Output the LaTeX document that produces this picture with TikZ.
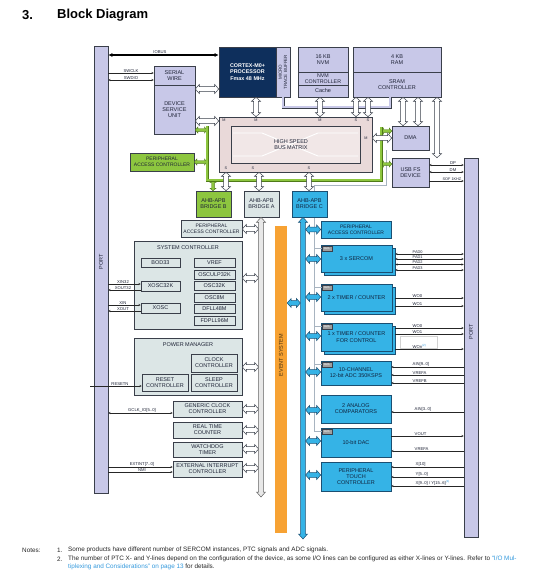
\documentclass[tikz,border=0pt]{standalone}
\usepackage{fontspec}
\setmainfont{Liberation Sans}
\usetikzlibrary{calc,arrows.meta}
\definecolor{lav}{HTML}{C8C8E8}
\definecolor{navy}{HTML}{0E2F5C}
\definecolor{bdr}{HTML}{3A3F4A}
\definecolor{txt}{HTML}{1E2336}
\definecolor{pinkA}{HTML}{E9D9D9}
\definecolor{pinkB}{HTML}{F1E7E7}
\definecolor{grn}{HTML}{8DC63F}
\definecolor{grnD}{HTML}{4F7A18}
\definecolor{gry}{HTML}{DCE6E6}
\definecolor{blu}{HTML}{35B3E6}
\definecolor{bluD}{HTML}{1B4F72}
\definecolor{bluT}{HTML}{10243F}
\definecolor{org}{HTML}{F7A233}
\definecolor{link}{HTML}{3399DD}
\definecolor{evl}{HTML}{A8B4C0}
\newcommand\titlefnt{\fontsize{13}{15}\selectfont\bfseries}
\newcommand\boxfnt{\fontsize{5.5}{6.2}\selectfont}
\newcommand\boxfnts{\fontsize{5.0}{5.8}\selectfont}
\newcommand\boxfntb{\fontsize{5.4}{6.4}\selectfont\bfseries}
\newcommand\sigfnt{\fontsize{4.2}{4.6}\selectfont}
\newcommand\notefnt{\fontsize{6.35}{7}\selectfont}
\newcommand\bx[7]{\node[#2, minimum width={(#5-#3)*1pt}, minimum height={(#6-#4)*1pt}] (#1) at ({(#3+#5)/2},{(#4+#6)/2}) {#7};}
\newcommand\barr[6]{%
 \coordinate (bA) at (#5); \coordinate (bB) at (#6);
 \path[#1] (bA) -- ($(bA)!#2!(bB)!#3!90:(bB)$) -- ($(bA)!#2!(bB)!#4!90:(bB)$) -- ($(bB)!#2!(bA)!#4!-90:(bA)$) -- ($(bB)!#2!(bA)!#3!-90:(bA)$) -- (bB) -- ($(bB)!#2!(bA)!#3!90:(bA)$) -- ($(bB)!#2!(bA)!#4!90:(bA)$) -- ($(bA)!#2!(bB)!#4!-90:(bB)$) -- ($(bA)!#2!(bB)!#3!-90:(bB)$) -- cycle;}
\newcommand\warr[2]{\barr{harr}{4pt}{4.5pt}{2.3pt}{#1}{#2}}
\newcommand\garr[2]{\barr{garrs}{2.5pt}{3pt}{1.3pt}{#1}{#2}}
\newcommand\blarr[2]{\barr{blarrs}{4pt}{4.5pt}{2.3pt}{#1}{#2}}
\tikzset{
 bxs/.style={draw=bdr, line width=0.6pt, inner sep=0pt, align=center, text=txt, font=\boxfnt},
 lavbox/.style={bxs, fill=lav},
 navybox/.style={bxs, fill=navy, text=white, font=\boxfntb},
 pinkbox/.style={bxs, fill=pinkA},
 pinkin/.style={bxs, fill=pinkB},
 grnbox/.style={bxs, fill=grn},
 grybox/.style={bxs, fill=gry},
 blubox/.style={bxs, fill=blu, draw=bluD, text=bluT},
 orgbox/.style={draw=none, fill=org, inner sep=0pt},
 faintbox/.style={draw=gray!35, line width=0.4pt, inner sep=0pt},
 dmatag/.style={draw=bdr, line width=0.4pt, fill=gray!75, minimum width=10pt, minimum height=5pt, inner sep=0pt, font=\fontsize{2.6}{3}\selectfont, text=white, anchor=north west},
 sig/.style={line width=0.5pt, draw=black!85},
 sa/.style={-{Stealth[length=2.2pt,width=2pt]}},
 as/.style={{Stealth[length=2.2pt,width=2pt]}-},
 sas/.style={{Stealth[length=2.2pt,width=2pt]}-{Stealth[length=2.2pt,width=2pt]}},
 siglab/.style={font=\sigfnt, inner sep=0.5pt, anchor=south, text=txt},
 siglabw/.style={siglab, anchor=south west},
 ms/.style={font=\fontsize{3.8}{4}\selectfont, inner sep=0pt, text=txt},
 harr/.style={fill=white, draw=bdr, line width=0.5pt, line join=miter},
 garrs/.style={fill=grn, draw=grnD, line width=0.4pt, line join=miter},
 blarrs/.style={fill=blu, draw=bluD, line width=0.5pt, line join=miter},
 grbus/.style={fill=gray!18, draw=gray!75!black, line width=0.5pt, line join=miter},
 gline/.style={draw=grnD, line width=3pt, postaction={draw=grn, line width=1.8pt}},
 mtbline/.style={draw=bdr, line width=0.5pt, double=lav, double distance=2pt},
 evline/.style={draw=evl, line width=0.5pt},
 notes/.style={font=\notefnt, inner sep=0pt, anchor=west, text=black!85}
}
\begin{document}
\begin{tikzpicture}[x=1pt,y=-1pt]
\useasboundingbox (0,0) rectangle (534,582);
\fill[white] (0,0) rectangle (534,582);
% title
\node[anchor=west, font=\titlefnt, inner sep=0pt] (tnum) at (22,15) {3.};
\node[anchor=west, font=\titlefnt, inner sep=0pt] (ttext) at (57,15) {Block Diagram};
% ports
\bx{lport}{lavbox}{94}{46}{108}{493}{}
\node[rotate=90, font=\boxfnt, text=txt] (lportT) at (101,262) {PORT};
\bx{rport}{lavbox}{464}{158}{478}{537}{}
\node[rotate=90, font=\boxfnt, text=txt] (rportT) at (471,332) {PORT};
% event line (behind)
\coordinate (ev1) at (386,150);
\coordinate (ev2) at (386,185);
\coordinate (ev3) at (314,185);
\coordinate (ev4) at (314,430.5);
\draw[evline] (ev1) -- (ev2) -- (ev3) -- (ev4);
% top row
\bx{cpu}{navybox}{219}{47}{276}{97}{CORTEX-M0+\\PROCESSOR\\Fmax 48 MHz}
\bx{mtb}{lavbox}{276}{47}{290}{97}{}
\node[rotate=90, font=\fontsize{4.5}{5.2}\selectfont, align=center, text=txt, inner sep=0pt] (mtbT) at (mtb.center) {MICRO\\TRACE BUFFER};
\bx{nvm}{lavbox}{298}{47}{348}{72}{16 KB\\NVM}
\bx{nvmc}{lavbox, font=\fontsize{5.3}{5.7}\selectfont}{298}{72}{348}{85}{NVM\\CONTROLLER}
\bx{cache}{lavbox}{298}{85}{348}{97}{Cache}
\bx{ram}{lavbox}{353}{47}{441}{72}{4 KB\\RAM}
\bx{sramc}{lavbox}{353}{72}{441}{97}{SRAM\\CONTROLLER}
\bx{sw}{lavbox}{154}{66}{195}{85}{SERIAL\\WIRE}
\bx{dsu}{lavbox}{154}{85}{195}{134}{DEVICE\\SERVICE\\UNIT}
% IOBUS
\draw[line width=1.2pt, {Latex[length=4pt,width=4pt]}-{Latex[length=4pt,width=4pt]}] (lport.east |- 0,55) -- (cpu.west |- 0,55);
\node[siglab] (iobusT) at (160,54) {IOBUS};
% MTB line
\draw[mtbline] (mtb.south -| 283,0) -- ++(0,10) -| (sramc.south -| 390,0);
% bus matrix
\bx{bm}{pinkbox}{219}{117}{372}{172}{}
\bx{bmi}{pinkin}{231}{126}{360}{163}{}
\draw[white, line width=0.9pt] (233,133) -- (262,133) -- (318,156) -- (358,156);
\draw[white, line width=0.9pt] (233,156) -- (262,156) -- (318,133) -- (358,133);
\node[font=\boxfnt, align=center, text=txt] (bmT) at (291,144.5) {HIGH SPEED\\BUS MATRIX};
\node[ms] (m1) at (224,120.5) {M};
\node[ms] (m2) at (256,120.5) {M};
\node[ms] (m3) at (320,120.5) {M};
\node[ms] (s1) at (356,120.5) {S};
\node[ms] (s2) at (368,120.5) {S};
\node[ms] (m4) at (366,138) {M};
\node[ms] (s3) at (226,168.5) {S};
\node[ms] (s4) at (253,168.5) {S};
\node[ms] (s5) at (309,168.5) {S};
\bx{dma}{lavbox}{392}{126}{429}{150}{DMA}
\bx{usb}{lavbox}{392}{158}{429}{187}{USB FS\\DEVICE}
% USB signals
\draw[sig, sas] (usb.east |- 0,165) -- (rport.west |- 0,165);
\draw[sig, sas] (usb.east |- 0,172) -- (rport.west |- 0,172);
\draw[sig, sa] (usb.east |- 0,181) -- (rport.west |- 0,181);
\node[siglab] (lDP) at (453,165) {DP};
\node[siglab] (lDM) at (453,172) {DM};
\node[siglab, font=\fontsize{3.8}{4.2}\selectfont] (lSOF) at (452,181) {SOF 1KHZ};
% green
\bx{pacg}{grnbox, font=\boxfnts}{130}{153}{194}{171}{PERIPHERAL\\ACCESS CONTROLLER}
\bx{brb}{grnbox}{196}{191}{231}{217}{AHB-APB\\BRIDGE B}
\bx{bra}{grybox}{244}{191}{279}{217}{AHB-APB\\BRIDGE A}
\bx{brc}{blubox}{292}{191}{327}{217}{AHB-APB\\BRIDGE C}
\coordinate (g1) at (207,126);
\coordinate (g2) at (207,180);
\coordinate (g3) at (381,180);
\coordinate (g4) at (381,127);
\garr{dsu.east |- 0,130}{g1 |- 0,130}
\garr{pacg.east |- 0,162}{g1 |- 0,162}
\garr{g2 -| 213,0}{brb.north -| 213,0}
\garr{g4 |- 0,131}{dma.west |- 0,131}
\garr{g4 |- 0,164}{usb.west |- 0,164}
\draw[gline] (g1) -- (g2) -- (g3) -- (g4);
% hollow arrows top
\warr{cpu.south -| 256,0}{bm.north -| 256,0}
\warr{cache.south -| 320,0}{bm.north -| 320,0}
\warr{sramc.south -| 356,0}{bm.north -| 356,0}
\warr{sramc.south -| 368,0}{bm.north -| 368,0}
\warr{sramc.south -| 403,0}{dma.north -| 403,0}
\warr{sramc.south -| 418,0}{dma.north -| 418,0}
\warr{sramc.south -| 437,0}{usb.north -| 437,0}
\warr{dsu.east |- 0,89}{cpu.west |- 0,89}
\warr{dsu.east |- 0,121}{bm.west |- 0,121}
\warr{bm.east |- 0,138}{dma.west |- 0,138}
\warr{bm.south -| 226,0}{brb.north -| 226,0}
\warr{bm.south -| 259,0}{bra.north -| 259,0}
\warr{bm.south -| 309,0}{brc.north -| 309,0}
% left signals
\draw[sig, sa] (lport.east |- 0,73) -- (sw.west |- 0,73);
\draw[sig, sas] (lport.east |- 0,80) -- (sw.west |- 0,80);
\node[siglab] (lSWCLK) at (131,73) {SWCLK};
\node[siglab] (lSWDIO) at (131,80) {SWDIO};
% gray side
\bx{paca}{grybox, font=\boxfnts}{181}{220}{242}{237}{PERIPHERAL\\ACCESS CONTROLLER}
\bx{sysc}{grybox}{134}{241}{242}{329}{}
\node[font=\boxfnt, text=txt] (syscT) at (188,248) {SYSTEM CONTROLLER};
\bx{bod}{grybox}{141}{258}{180}{267}{BOD33}
\bx{vref}{grybox}{194}{258}{235}{267}{VREF}
\bx{oscu}{grybox}{194}{270}{235}{279}{OSCULP32K}
\bx{osc32}{grybox}{194}{281}{235}{290}{OSC32K}
\bx{osc8}{grybox}{194}{293}{235}{302}{OSC8M}
\bx{dfll}{grybox}{194}{304}{235}{313}{DFLL48M}
\bx{fdpll}{grybox}{194}{316}{235}{325}{FDPLL96M}
\bx{xosc32}{grybox}{141}{281}{180}{291}{XOSC32K}
\bx{xosc}{grybox}{141}{303}{180}{313}{XOSC}
\bx{pm}{grybox}{134}{338}{242}{395}{}
\node[font=\boxfnt, text=txt] (pmT) at (188,345) {POWER MANAGER};
\bx{clkc}{grybox}{191}{354}{237}{372}{CLOCK\\CONTROLLER}
\bx{rstc}{grybox}{142}{374}{188}{391}{RESET\\CONTROLLER}
\bx{slpc}{grybox}{191}{374}{237}{391}{SLEEP\\CONTROLLER}
\bx{gclk}{grybox}{173}{401}{242}{417}{GENERIC CLOCK\\CONTROLLER}
\bx{rtc}{grybox}{173}{422}{242}{438}{REAL TIME\\COUNTER}
\bx{wdt}{grybox}{173}{442}{242}{457}{WATCHDOG\\TIMER}
\bx{eic}{grybox}{173}{461}{242}{477}{EXTERNAL INTERRUPT\\CONTROLLER}
\draw[sig, sa] (lport.east |- 0,284) -- (xosc32.west |- 0,284);
\draw[sig, as] (lport.east |- 0,290) -- (xosc32.west |- 0,290);
\node[siglab] (lXIN32) at (123,284) {XIN32};
\node[siglab] (lXOUT32) at (123,290) {XOUT32};
\draw[sig, sa] (lport.east |- 0,305) -- (xosc.west |- 0,305);
\draw[sig, as] (lport.east |- 0,311) -- (xosc.west |- 0,311);
\node[siglab] (lXIN) at (123,305) {XIN};
\node[siglab] (lXOUT) at (123,311) {XOUT};
\coordinate (rstIn) at (90,386);
\draw[sig, sa] (rstIn) -- (rstc.west |- 0,386);
\node[siglab] (lRST) at (120,386) {RESETN};
\draw[sig, sas] (lport.east |- 0,413) -- (gclk.west |- 0,413);
\node[siglab] (lGCLK) at (142,413) {GCLK\_IO[5..0]};
\draw[sig, sa] (lport.east |- 0,467) -- (eic.west |- 0,467);
\draw[sig, sa] (lport.east |- 0,472) -- (eic.west |- 0,472);
\node[siglab] (lEXT) at (142,467) {EXTINT[7..0]};
\node[siglab] (lNMI) at (142,472.5) {NMI};
% gray bus
\coordinate (gL) at (258.6,0);
\warr{paca.east |- 0,229}{gL |- 0,229}
\warr{sysc.east |- 0,278}{gL |- 0,278}
\warr{pm.east |- 0,367}{gL |- 0,367}
\warr{gclk.east |- 0,409}{gL |- 0,409}
\warr{rtc.east |- 0,430}{gL |- 0,430}
\warr{wdt.east |- 0,449}{gL |- 0,449}
\warr{eic.east |- 0,468}{gL |- 0,468}
\coordinate (gEnd) at (261,497);
\barr{grbus}{5pt}{4.5pt}{2.4pt}{bra.south -| 261,0}{gEnd}
% event system
\bx{evsys}{orgbox}{275}{226}{287}{533}{}
\node[rotate=90, font=\boxfnt, text=black!70!org] (evT) at (281,355) {EVENT SYSTEM};
% blue side
\bx{pacc}{blubox, font=\boxfnts}{321}{221}{391}{238}{PERIPHERAL\\ACCESS CONTROLLER}
\bx{sercomS}{blubox}{324}{248}{395}{275}{}
\bx{sercom}{blubox}{321}{245}{392}{272}{3 x SERCOM}
\bx{tcS}{blubox}{324}{287}{395}{314}{}
\bx{tc}{blubox}{321}{284}{392}{311}{2 x TIMER / COUNTER}
\bx{tccS}{blubox}{324}{326}{395}{354}{}
\bx{tcc}{blubox}{321}{323}{392}{351}{1 x TIMER / COUNTER\\FOR CONTROL}
\bx{adc}{blubox}{321}{361}{391}{385}{10-CHANNEL\\12-bit ADC 350KSPS}
\bx{ac}{blubox}{321}{395}{391}{423}{2 ANALOG\\COMPARATORS}
\bx{dac}{blubox}{321}{428}{391}{457}{10-bit DAC}
\bx{ptc}{blubox}{321}{462}{391}{491}{PERIPHERAL\\TOUCH\\CONTROLLER}
\node[dmatag] (dS) at (321.5,245.5) {DMA};
\node[dmatag] (dT) at (321.5,284.5) {DMA};
\node[dmatag] (dC) at (321.5,323.5) {DMA};
\node[dmatag] (dA) at (321.5,361.5) {DMA};
\node[dmatag] (dD) at (321.5,428.5) {DMA};
\draw[evline] (ev4 |- dS.west) -- (dS.west);
\draw[evline] (ev4 |- dT.west) -- (dT.west);
\draw[evline] (ev4 |- dC.west) -- (dC.west);
\draw[evline] (ev4 |- dA.west) -- (dA.west);
\draw[evline] (ev4 |- dD.west) -- (dD.west);
% blue bus arrows
\coordinate (bR) at (305.6,0);
\coordinate (bL) at (300.4,0);
\blarr{bR |- 0,229.5}{pacc.west |- 0,229.5}
\blarr{bR |- 0,259}{sercom.west |- 0,259}
\blarr{bR |- 0,297}{tc.west |- 0,297}
\blarr{bR |- 0,336}{tcc.west |- 0,336}
\blarr{bR |- 0,372}{adc.west |- 0,372}
\blarr{bR |- 0,410}{ac.west |- 0,410}
\blarr{bR |- 0,441}{dac.west |- 0,441}
\blarr{bR |- 0,475}{ptc.west |- 0,475}
\blarr{evsys.east |- 0,303}{bL |- 0,303}
\coordinate (bEnd) at (303,539);
\barr{blarrs}{5pt}{4.5pt}{2.4pt}{brc.south -| 303,0}{bEnd}
% right signals
\draw[sig, sas] (sercomS.east |- 0,254) -- (rport.west |- 0,254);
\draw[sig, sas] (sercomS.east |- 0,259) -- (rport.west |- 0,259);
\draw[sig, sas] (sercomS.east |- 0,264.5) -- (rport.west |- 0,264.5);
\draw[sig, sas] (sercomS.east |- 0,270) -- (rport.west |- 0,270);
\node[siglabw, font=\fontsize{3.9}{4.2}\selectfont] (lP0) at (412,254) {PAD0};
\node[siglabw, font=\fontsize{3.9}{4.2}\selectfont] (lP1) at (412,259) {PAD1};
\node[siglabw, font=\fontsize{3.9}{4.2}\selectfont] (lP2) at (412,264.5) {PAD2};
\node[siglabw, font=\fontsize{3.9}{4.2}\selectfont] (lP3) at (412,270) {PAD3};
\draw[sig, sa] (tcS.east |- 0,298) -- (rport.west |- 0,298);
\draw[sig, sa] (tcS.east |- 0,306) -- (rport.west |- 0,306);
\node[siglabw] (lW0) at (412,298) {WO0};
\node[siglabw] (lW1) at (412,306) {WO1};
\bx{tccfaint}{faintbox}{400}{336}{437}{348}{}
\draw[sig, sa] (tccS.east |- 0,328) -- (rport.west |- 0,328);
\draw[sig, sa] (tccS.east |- 0,334) -- (rport.west |- 0,334);
\draw[sig, sa] (tccS.east |- 0,349) -- (rport.west |- 0,349);
\node[siglabw] (lCW0) at (412,328) {WO0};
\node[siglabw] (lCW1) at (412,334) {WO1};
\node[siglabw] (lCWn) at (412,349) {WOn\textsuperscript{\textcolor{link}{(2)}}};
\draw[sig, as] (adc.east |- 0,367) -- (rport.west |- 0,367);
\draw[sig, as] (adc.east |- 0,375) -- (rport.west |- 0,375);
\draw[sig, as] (adc.east |- 0,383) -- (rport.west |- 0,383);
\node[siglabw] (lAIN) at (412,367) {AIN[9..0]};
\node[siglabw] (lVRA) at (412,375) {VREFA};
\node[siglabw] (lVRB) at (412,383) {VREFB};
\draw[sig, as] (ac.east |- 0,412) -- (rport.west |- 0,412);
\node[siglabw] (lACIN) at (414,412) {AIN[3..0]};
\draw[sig, sa] (dac.east |- 0,436) -- (rport.west |- 0,436);
\draw[sig, as] (dac.east |- 0,451) -- (rport.west |- 0,451);
\node[siglabw] (lVOUT) at (414,436) {VOUT};
\node[siglabw] (lDVR) at (414,451) {VREFA};
\draw[sig, as] (ptc.east |- 0,467) -- (rport.west |- 0,467);
\draw[sig, as] (ptc.east |- 0,477) -- (rport.west |- 0,477);
\draw[sig, as] (ptc.east |- 0,486) -- (rport.west |- 0,486);
\node[siglabw] (lX10) at (415,467) {X[10]};
\node[siglabw] (lY) at (415,477) {Y[5..0]};
\node[siglabw] (lXY) at (415,486) {X[9..0] / Y[15..6]\textsuperscript{\textcolor{link}{(1)}}};
% notes
\node[notes] (nN) at (22,550) {Notes:};
\node[notes] (n1) at (57,550) {1.};
\node[notes] (n1t) at (68,550) {Some products have different number of SERCOM instances, PTC signals and ADC signals.};
\node[notes] (n2) at (57,559) {2.};
\node[notes] (n2t) at (68,559) {The number of PTC X- and Y-lines depend on the configuration of the device, as some I/O lines can be configured as either X-lines or Y-lines. Refer to \textcolor{link}{“I/O Mul-}};
\node[notes] (n2u) at (68,567) {\textcolor{link}{tiplexing and Considerations” on page 13} for details.};
\end{tikzpicture}
\end{document}
